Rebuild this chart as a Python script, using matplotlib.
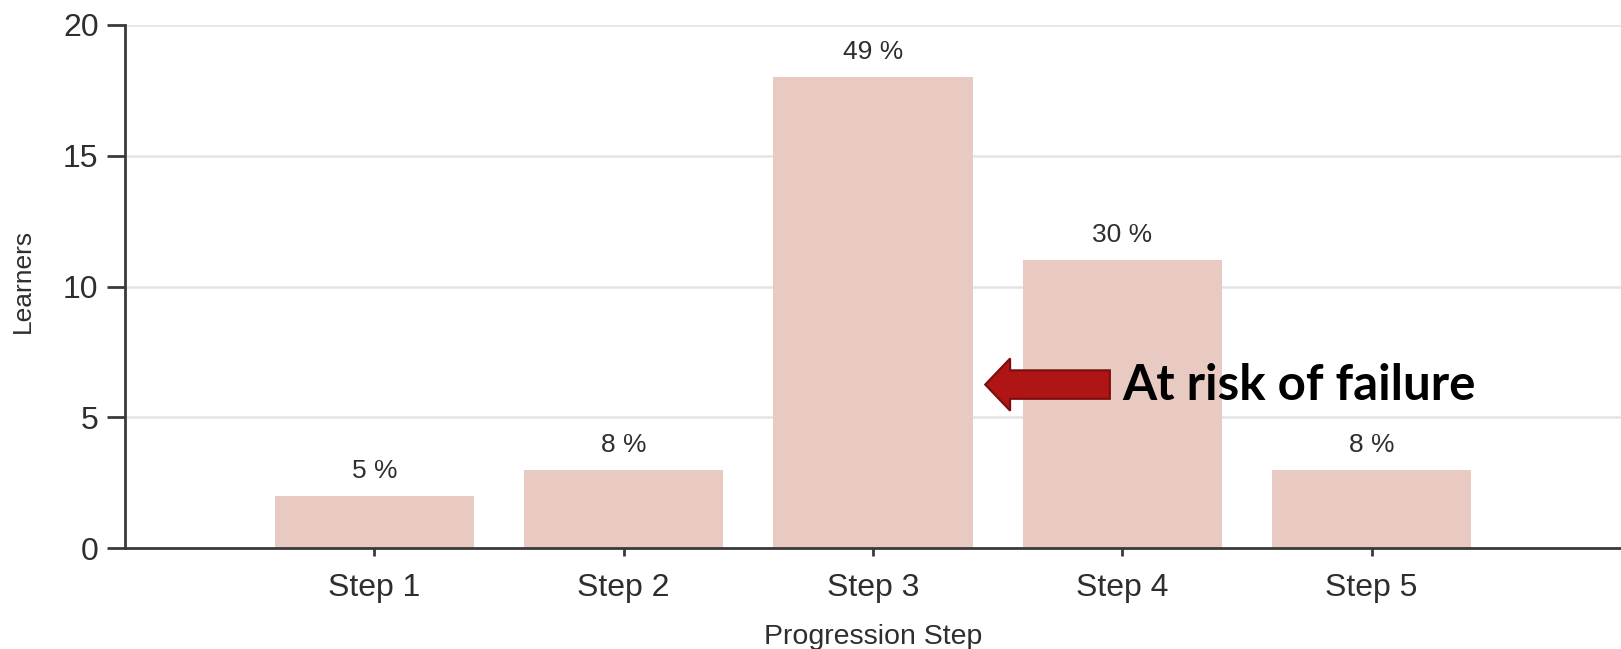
import matplotlib
matplotlib.use("Agg")
import matplotlib.pyplot as plt
from matplotlib.patches import FancyArrow

plt.rcParams['font.family'] = ['Liberation Sans', 'DejaVu Sans']

steps = ["Step 1", "Step 2", "Step 3", "Step 4", "Step 5"]
learners = [2, 3, 18, 11, 3]
percent_labels = ["5 %", "8 %", "49 %", "30 %", "8 %"]
y_ticks = [0, 5, 10, 15, 20]

bar_color = "#e8cac3"
axis_color = "#3a3a3a"
text_color = "#2e2e2e"

fig = plt.figure(figsize=(16.21, 6.49), dpi=100)
ax = fig.add_axes([0.0771, 0.1556, 0.9229, 0.8059])

positions = list(range(1, len(steps) + 1))
ax.bar(positions, learners, width=0.8, color=bar_color, zorder=2)

for x, v, lab in zip(positions, learners, percent_labels):
    ax.annotate(lab, (x, v), xytext=(0, 13), textcoords="offset points",
                ha="center", va="baseline", fontsize=19, color=text_color)

ax.set_xlim(0, 6)
ax.set_ylim(0, 20)
ax.set_xticks(positions)
ax.set_xticklabels(steps, fontsize=23, color=text_color)
ax.set_yticks(y_ticks)
ax.set_yticklabels([str(t) for t in y_ticks], fontsize=23, color=text_color)

ax.grid(axis="y", color="#e4e4e4", linewidth=1.8, zorder=0)
ax.set_axisbelow(True)

for side in ("top", "right"):
    ax.spines[side].set_visible(False)
for side in ("left", "bottom"):
    ax.spines[side].set_color(axis_color)
    ax.spines[side].set_linewidth(2)
ax.tick_params(axis="y", length=13, width=2, color=axis_color, pad=6)
ax.tick_params(axis="x", length=6, width=2, color=axis_color, pad=12)

ax.set_xlabel("Progression Step", fontsize=20.5, color=text_color)
ax.xaxis.set_label_coords(0.5, -0.145)
ax.set_ylabel("Learners", fontsize=19, color=text_color)
ax.yaxis.set_label_coords(-0.060, 0.51)

# callout arrow pointing at the Step 3 bar
arrow = FancyArrow(3.95, 6.25, -0.50, 0, width=1.09, head_width=2.0,
                   head_length=0.10, length_includes_head=True,
                   facecolor="#b01515", edgecolor="#7a0e0e", linewidth=1.5,
                   zorder=4, transform=ax.transData)
ax.add_patch(arrow)
ax.text(4.0, 6.2, "At risk of failure", fontsize=35.5, fontweight="bold",
        family=["Lato", "DejaVu Sans"], color="black", ha="left", va="center",
        zorder=5)

fig.savefig("out.png", dpi=100)
